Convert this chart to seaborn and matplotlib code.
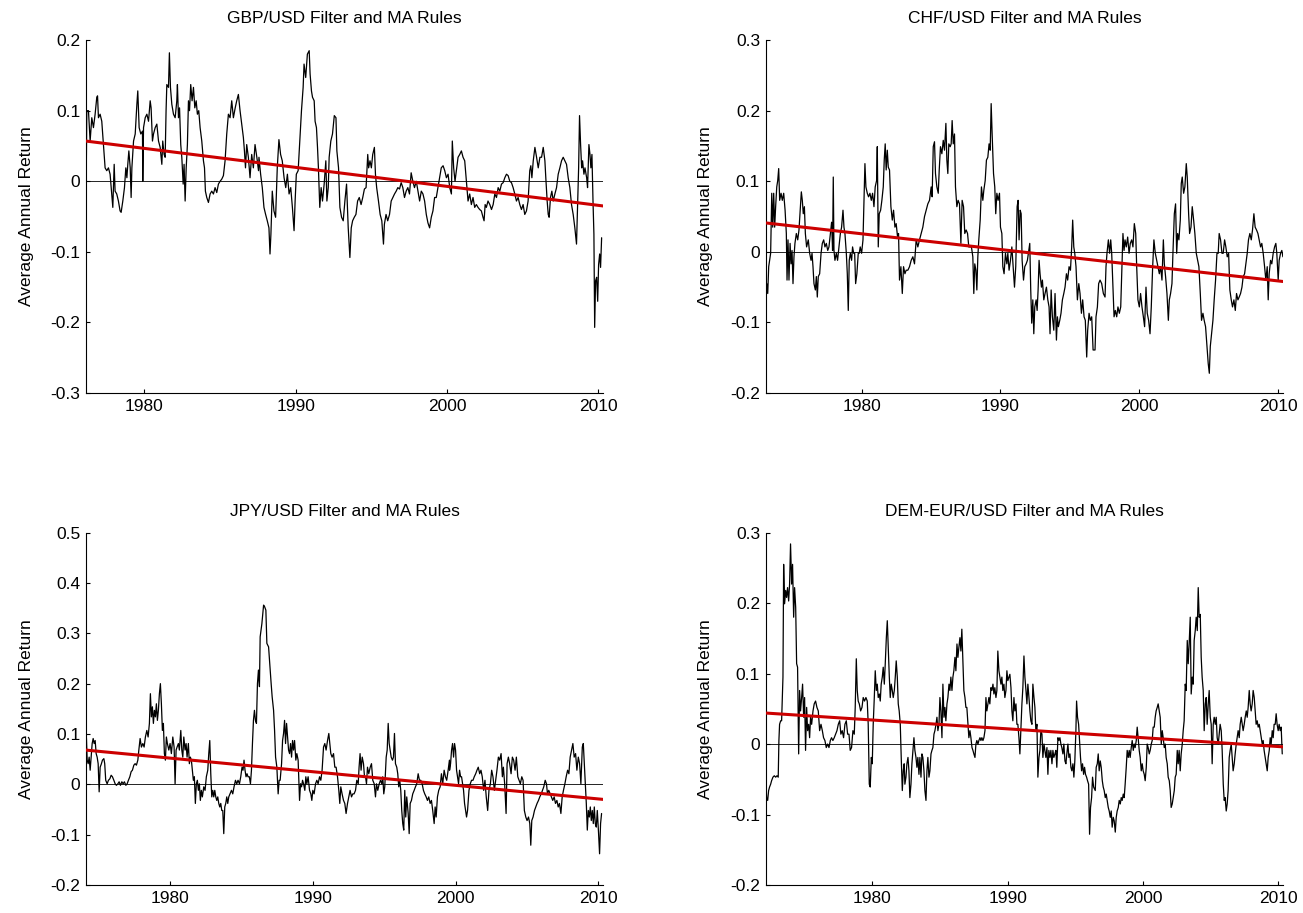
import matplotlib
matplotlib.use("Agg")
import matplotlib.pyplot as plt
import seaborn as sns
from matplotlib.ticker import FixedLocator, FuncFormatter

# ---------------- data ----------------
gbp_years = [
    1976.12, 1976.15, 1976.19, 1976.30, 1976.41, 1976.52, 1976.63, 1976.74, 1976.85, 1976.90,
    1976.96, 1977.07, 1977.18, 1977.29, 1977.40, 1977.51, 1977.62, 1977.73, 1977.84, 1977.91,
    1978.00, 1978.06, 1978.17, 1978.28, 1978.39, 1978.46, 1978.57, 1978.68, 1978.77, 1978.84,
    1978.90, 1978.97, 1979.06, 1979.12, 1979.17, 1979.28, 1979.39, 1979.50, 1979.56, 1979.65,
    1979.76, 1979.87, 1979.89, 1979.94, 1980.05, 1980.16, 1980.27, 1980.38, 1980.44, 1980.53,
    1980.60, 1980.71, 1980.82, 1980.93, 1981.04, 1981.15, 1981.21, 1981.30, 1981.37, 1981.43,
    1981.48, 1981.59, 1981.65, 1981.72, 1981.81, 1981.92, 1982.03, 1982.14, 1982.18, 1982.25,
    1982.32, 1982.40, 1982.47, 1982.56, 1982.62, 1982.69, 1982.76, 1982.84, 1982.91, 1982.98,
    1983.06, 1983.15, 1983.24, 1983.33, 1983.42, 1983.50, 1983.59, 1983.68, 1983.79, 1983.90,
    1983.97, 1984.03, 1984.12, 1984.23, 1984.34, 1984.45, 1984.56, 1984.67, 1984.78, 1984.89,
    1985.00, 1985.11, 1985.22, 1985.33, 1985.44, 1985.55, 1985.66, 1985.77, 1985.88, 1986.00,
    1986.10, 1986.21, 1986.32, 1986.43, 1986.54, 1986.61, 1986.68, 1986.76, 1986.87, 1986.98,
    1987.09, 1987.20, 1987.31, 1987.43, 1987.54,
    1987.57, 1987.68, 1987.79, 1987.90, 1988.01, 1988.12, 1988.23, 1988.30, 1988.36, 1988.45,
    1988.56, 1988.67, 1988.78, 1988.89, 1989.00, 1989.11, 1989.23, 1989.34, 1989.45, 1989.56,
    1989.67, 1989.78, 1989.89, 1989.96, 1990.04, 1990.16, 1990.27, 1990.38, 1990.49, 1990.55,
    1990.66, 1990.77, 1990.89, 1990.95, 1991.04, 1991.11, 1991.22, 1991.28, 1991.37, 1991.44,
    1991.50, 1991.59, 1991.68, 1991.77, 1991.88, 1991.99, 1992.06, 1992.15, 1992.21, 1992.32,
    1992.43, 1992.55, 1992.66, 1992.72, 1992.83, 1992.92, 1993.03, 1993.14, 1993.25, 1993.36,
    1993.47, 1993.58, 1993.67, 1993.76, 1993.87, 1993.98, 1994.09, 1994.20, 1994.32, 1994.43,
    1994.54, 1994.65, 1994.76, 1994.82, 1994.91, 1995.00, 1995.09, 1995.20, 1995.27, 1995.35,
    1995.47, 1995.58, 1995.69, 1995.80, 1995.86, 1995.97, 1996.08, 1996.20, 1996.31, 1996.42,
    1996.53, 1996.64, 1996.75, 1996.86, 1996.97, 1997.08, 1997.19, 1997.30, 1997.41, 1997.52,
    1997.63, 1997.74, 1997.85, 1997.97, 1998.08, 1998.19, 1998.30, 1998.41, 1998.52, 1998.63,
    1998.74, 1998.85, 1998.96, 1999.07, 1999.18, 1999.29, 1999.40, 1999.51, 1999.62, 1999.74,
    1999.85, 1999.96,
    2000.07, 2000.18, 2000.29, 2000.35, 2000.44, 2000.53, 2000.62, 2000.73, 2000.84, 2000.95,
    2001.06, 2001.17, 2001.28, 2001.39, 2001.50, 2001.61, 2001.72, 2001.83, 2001.94, 2002.05,
    2002.16, 2002.27, 2002.38, 2002.45, 2002.52, 2002.60, 2002.71, 2002.83, 2002.94, 2003.05,
    2003.16, 2003.27, 2003.38, 2003.49, 2003.60, 2003.71, 2003.82, 2003.93, 2004.04, 2004.15,
    2004.26, 2004.37, 2004.48, 2004.59, 2004.70, 2004.81, 2004.92, 2005.03, 2005.14, 2005.25,
    2005.36, 2005.47, 2005.54, 2005.61, 2005.70, 2005.81, 2005.92, 2006.03, 2006.14, 2006.25,
    2006.36, 2006.47, 2006.53, 2006.62, 2006.69, 2006.75, 2006.84, 2006.93, 2007.02, 2007.13,
    2007.24, 2007.35, 2007.46, 2007.57, 2007.68, 2007.79, 2007.90, 2008.01, 2008.12, 2008.23,
    2008.34, 2008.45, 2008.56, 2008.63, 2008.70, 2008.76, 2008.83, 2008.90, 2008.96, 2009.05,
    2009.12, 2009.23, 2009.29, 2009.38, 2009.45, 2009.51, 2009.58, 2009.65, 2009.71, 2009.76,
    2009.82, 2009.89, 2009.96, 2010.02, 2010.09, 2010.15, 2010.22,
]
gbp_values = [
    0.034, 0.000, 0.100, 0.100, 0.057, 0.090, 0.076, 0.095, 0.119, 0.121,
    0.090, 0.095, 0.085, 0.052, 0.019, 0.015, 0.019, 0.010, -0.018, -0.037,
    0.024, -0.014, -0.018, -0.028, -0.042, -0.044, -0.028, -0.009, 0.019, 0.005,
    0.024, 0.043, 0.019, -0.023, 0.019, 0.057, 0.067, 0.109, 0.128, 0.076,
    0.067, 0.071, 0.000, 0.076, 0.090, 0.095, 0.085, 0.114, 0.104, 0.057,
    0.067, 0.076, 0.081, 0.057, 0.048, 0.024, 0.057, 0.038, 0.034, 0.100,
    0.137, 0.133, 0.182, 0.133, 0.109, 0.095, 0.090, 0.114, 0.137, 0.090,
    0.104, 0.052, 0.034, -0.004, 0.024, -0.028, 0.019, 0.052, 0.114, 0.100,
    0.137, 0.114, 0.133, 0.104, 0.114, 0.095, 0.100, 0.076, 0.057, 0.029,
    0.019, -0.014, -0.023, -0.030, -0.018, -0.014, -0.018, -0.009, -0.016, -0.004,
    0.000, 0.003, 0.008, 0.029, 0.067, 0.095, 0.090, 0.114, 0.090, 0.104,
    0.114, 0.123, 0.100, 0.081, 0.062, 0.043, 0.019, 0.052, 0.034, 0.005,
    0.038, 0.019, 0.052, 0.034, 0.015,
    0.034, 0.010, -0.009, -0.037, -0.047, -0.056, -0.066, -0.103, -0.075, -0.014,
    -0.042, -0.051, 0.019, 0.059, 0.038, 0.029, 0.005, -0.009, 0.010, -0.018,
    -0.009, -0.037, -0.070, -0.028, 0.010, 0.015, 0.057, 0.100, 0.133, 0.166,
    0.147, 0.180, 0.185, 0.152, 0.128, 0.119, 0.114, 0.085, 0.076, 0.048,
    0.019, -0.037, -0.009, -0.028, -0.004, 0.029, -0.028, -0.009, 0.034, 0.057,
    0.067, 0.093, 0.090, 0.043, 0.019, -0.037, -0.051, -0.056, -0.028, -0.004,
    -0.066, -0.108, -0.066, -0.056, -0.051, -0.047, -0.028, -0.023, -0.033, -0.023,
    -0.011, -0.009, 0.038, 0.019, 0.029, 0.019, 0.038, 0.048, 0.010, -0.009,
    -0.028, -0.047, -0.056, -0.089, -0.061, -0.047, -0.056, -0.047, -0.028, -0.023,
    -0.018, -0.014, -0.009, -0.011, -0.002, -0.009, -0.023, -0.014, -0.009, -0.018,
    0.012, 0.000, -0.009, 0.000, -0.014, -0.028, -0.014, -0.018, -0.028, -0.047,
    -0.059, -0.066, -0.051, -0.042, -0.023, -0.023, -0.009, 0.005, 0.019, 0.022,
    0.015, 0.005,
    0.010, -0.009, -0.018, 0.057, 0.019, 0.000, 0.015, 0.034, 0.038, 0.043,
    0.034, 0.029, 0.000, -0.028, -0.018, -0.033, -0.023, -0.037, -0.033, -0.037,
    -0.040, -0.042, -0.051, -0.056, -0.033, -0.037, -0.028, -0.033, -0.040, -0.033,
    -0.018, -0.023, -0.009, -0.014, -0.004, -0.002, 0.005, 0.010, 0.008, 0.000,
    -0.002, -0.009, -0.018, -0.028, -0.023, -0.033, -0.040, -0.033, -0.047, -0.042,
    -0.028, 0.015, 0.022, 0.005, 0.029, 0.048, 0.034, 0.019, 0.034, 0.034,
    0.048, 0.029, 0.005, -0.028, -0.047, -0.051, -0.023, -0.014, -0.028, -0.018,
    -0.009, 0.010, 0.019, 0.029, 0.034, 0.029, 0.024, 0.005, -0.009, -0.033,
    -0.047, -0.066, -0.089, -0.037, 0.019, 0.093, 0.052, 0.019, 0.029, 0.010,
    0.019, 0.005, -0.009, 0.052, 0.038, 0.019, 0.038, -0.028, -0.075, -0.207,
    -0.141, -0.136, -0.170, -0.118, -0.103, -0.122, -0.080,
]

chf_years = [
    1973.09, 1973.17, 1973.24, 1973.31, 1973.38, 1973.45, 1973.53, 1973.60, 1973.67, 1973.74,
    1973.81, 1973.89, 1973.96, 1974.03, 1974.10, 1974.20, 1974.29, 1974.39, 1974.49, 1974.58,
    1974.63, 1974.70, 1974.77, 1974.85, 1974.92, 1974.99, 1975.06, 1975.13, 1975.20, 1975.30,
    1975.40, 1975.49, 1975.59, 1975.66, 1975.73, 1975.80, 1975.88, 1975.95, 1976.04, 1976.16,
    1976.26, 1976.36, 1976.43, 1976.50, 1976.57, 1976.67, 1976.74, 1976.81, 1976.88, 1976.98,
    1977.08, 1977.17, 1977.27, 1977.36, 1977.46, 1977.56, 1977.65, 1977.75, 1977.84, 1977.91,
    1977.96, 1978.01, 1978.08, 1978.18, 1978.27, 1978.37, 1978.47, 1978.56, 1978.66, 1978.73,
    1978.80, 1978.90, 1978.97, 1979.04, 1979.11, 1979.19, 1979.28, 1979.35, 1979.43, 1979.50,
    1979.57, 1979.66, 1979.76, 1979.83, 1979.90, 1980.00, 1980.10, 1980.19, 1980.24, 1980.31,
    1980.41, 1980.50, 1980.60, 1980.70, 1980.79, 1980.89, 1980.98, 1981.08, 1981.13, 1981.20,
    1981.27, 1981.37, 1981.46, 1981.56, 1981.63, 1981.70, 1981.77, 1981.85, 1981.92, 1982.01,
    1982.11, 1982.21, 1982.30, 1982.40, 1982.49, 1982.59, 1982.66, 1982.73, 1982.83, 1982.93,
    1983.02, 1983.12,
    1983.21, 1983.33, 1983.45, 1983.57, 1983.69, 1983.81, 1983.93, 1984.05, 1984.17, 1984.29,
    1984.41, 1984.53, 1984.65, 1984.77, 1984.89, 1985.01, 1985.08, 1985.16, 1985.25, 1985.32,
    1985.42, 1985.52, 1985.59, 1985.68, 1985.78, 1985.88, 1985.97, 1986.07, 1986.14, 1986.21,
    1986.28, 1986.38, 1986.45, 1986.52, 1986.60, 1986.69, 1986.76, 1986.86, 1986.95, 1987.05,
    1987.15, 1987.24, 1987.34, 1987.43, 1987.53, 1987.63, 1987.72, 1987.82, 1987.91, 1988.01,
    1988.08, 1988.15, 1988.23, 1988.30, 1988.37, 1988.44, 1988.54, 1988.63, 1988.73, 1988.80,
    1988.90, 1988.99, 1989.09, 1989.18, 1989.26, 1989.33, 1989.40, 1989.50, 1989.59, 1989.66,
    1989.74, 1989.83, 1989.93, 1990.00, 1990.10, 1990.17, 1990.26, 1990.36, 1990.46, 1990.53,
    1990.62, 1990.72, 1990.82, 1990.91, 1991.01, 1991.10, 1991.20, 1991.27, 1991.34, 1991.42,
    1991.49, 1991.56, 1991.66, 1991.75, 1991.85, 1991.94, 1992.04, 1992.11, 1992.18, 1992.25,
    1992.33, 1992.40, 1992.47, 1992.57, 1992.64, 1992.71, 1992.78, 1992.85, 1992.95, 1993.02,
    1993.12, 1993.21, 1993.31, 1993.41, 1993.50, 1993.57, 1993.65, 1993.74, 1993.84, 1993.93,
    1994.03, 1994.10, 1994.17, 1994.27, 1994.36, 1994.46, 1994.56, 1994.65, 1994.75, 1994.84,
    1994.94, 1995.04, 1995.13, 1995.20, 1995.28, 1995.35, 1995.44, 1995.54, 1995.64, 1995.73,
    1995.83, 1995.92, 1996.02, 1996.11, 1996.21, 1996.28, 1996.38, 1996.47, 1996.57, 1996.67,
    1996.81, 1996.88, 1996.98, 1997.07, 1997.17, 1997.29, 1997.41, 1997.53, 1997.60, 1997.67,
    1997.77, 1997.86, 1997.94, 1998.01, 1998.10, 1998.18, 1998.27, 1998.37, 1998.46, 1998.56,
    1998.66, 1998.75, 1998.82, 1998.90, 1998.97, 1999.06, 1999.16, 1999.26, 1999.35, 1999.45,
    1999.54, 1999.64, 1999.74, 1999.81, 1999.90, 2000.00, 2000.09, 2000.19, 2000.29, 2000.38,
    2000.48, 2000.57, 2000.67, 2000.77, 2000.86, 2000.96, 2001.05, 2001.15, 2001.25, 2001.34,
    2001.44, 2001.53, 2001.63, 2001.73, 2001.80, 2001.89, 2001.99, 2002.09, 2002.16, 2002.25,
    2002.35, 2002.42, 2002.52, 2002.61, 2002.69, 2002.76, 2002.85, 2002.95, 2003.02, 2003.09,
    2003.19, 2003.28, 2003.38, 2003.45, 2003.55, 2003.62, 2003.72, 2003.81, 2003.91, 2004.00,
    2004.10, 2004.20, 2004.29, 2004.39, 2004.48, 2004.58, 2004.67, 2004.77, 2004.87, 2004.96,
    2005.04, 2005.11, 2005.20, 2005.30, 2005.39, 2005.49, 2005.59, 2005.68, 2005.75, 2005.85,
    2005.95, 2006.04, 2006.14, 2006.23, 2006.33, 2006.43, 2006.52, 2006.62, 2006.71, 2006.81,
    2006.91, 2007.00, 2007.10, 2007.19, 2007.29, 2007.39, 2007.48, 2007.58, 2007.67, 2007.77,
    2007.86, 2007.96, 2008.06, 2008.15, 2008.25, 2008.34, 2008.44, 2008.54, 2008.63, 2008.73,
    2008.82, 2008.92, 2009.02, 2009.11, 2009.21, 2009.28, 2009.35, 2009.45, 2009.54, 2009.64,
    2009.74, 2009.83, 2009.90, 2010.00, 2010.07, 2010.17, 2010.26, 2010.34,
]
chf_values = [
    -0.068, -0.045, -0.059, -0.021, -0.012, -0.002, 0.083, 0.035, 0.083, 0.035,
    0.064, 0.092, 0.101, 0.118, 0.073, 0.083, 0.073, 0.083, 0.059, 0.026,
    -0.040, 0.017, -0.040, 0.012, -0.017, 0.002, -0.045, -0.007, 0.012, 0.026,
    0.017, 0.031, 0.064, 0.085, 0.073, 0.054, 0.064, 0.026, 0.007, 0.017,
    -0.002, -0.012, -0.002, -0.021, -0.045, -0.054, -0.035, -0.064, -0.035, -0.031,
    -0.002, 0.012, 0.017, 0.007, 0.012, 0.002, 0.007, 0.026, 0.042, 0.002,
    0.106, 0.002, -0.012, -0.002, -0.012, 0.007, 0.026, 0.035, 0.059, 0.035,
    0.026, -0.002, -0.031, -0.083, -0.012, -0.002, -0.012, 0.007, -0.002, -0.002,
    -0.045, -0.031, -0.002, -0.002, 0.007, -0.002, 0.017, 0.083, 0.125, 0.092,
    0.083, 0.078, 0.083, 0.073, 0.083, 0.064, 0.092, 0.101, 0.149, 0.007,
    0.054, 0.059, 0.073, 0.092, 0.130, 0.153, 0.116, 0.144, 0.120, 0.116,
    0.064, 0.045, 0.059, 0.035, 0.040, 0.021, 0.026, -0.040, -0.021, -0.059,
    -0.021, -0.031,
    -0.026, -0.026, -0.021, -0.012, -0.007, -0.017, 0.017, 0.007, 0.017, 0.026,
    0.035, 0.050, 0.059, 0.068, 0.073, 0.092, 0.078, 0.149, 0.156, 0.111,
    0.092, 0.083, 0.116, 0.149, 0.139, 0.158, 0.144, 0.182, 0.130, 0.111,
    0.153, 0.149, 0.153, 0.186, 0.153, 0.167, 0.092, 0.064, 0.073, 0.068,
    0.012, 0.073, 0.064, 0.026, 0.031, 0.026, 0.007, 0.007, 0.007, -0.007,
    -0.059, -0.017, -0.026, -0.054, -0.007, 0.017, 0.045, 0.092, 0.073, 0.087,
    0.101, 0.130, 0.134, 0.153, 0.144, 0.210, 0.167, 0.111, 0.092, 0.054,
    0.083, 0.073, 0.083, 0.035, 0.026, -0.021, -0.031, -0.002, -0.017, -0.002,
    -0.026, -0.012, 0.007, -0.021, -0.050, -0.021, 0.064, 0.073, 0.017, 0.059,
    0.054, -0.012, -0.040, -0.021, -0.017, -0.012, 0.002, 0.012, -0.054, -0.101,
    -0.068, -0.116, -0.078, -0.068, -0.083, -0.054, -0.012, -0.031, -0.050, -0.040,
    -0.068, -0.059, -0.050, -0.068, -0.078, -0.116, -0.054, -0.092, -0.111, -0.059,
    -0.125, -0.092, -0.106, -0.097, -0.087, -0.068, -0.059, -0.050, -0.031, -0.040,
    -0.021, -0.026, 0.007, 0.045, 0.007, -0.002, -0.021, -0.068, -0.045, -0.059,
    -0.087, -0.068, -0.092, -0.097, -0.149, -0.111, -0.087, -0.097, -0.092, -0.139,
    -0.139, -0.092, -0.078, -0.045, -0.040, -0.045, -0.059, -0.064, -0.021, -0.002,
    0.017, -0.002, 0.017, -0.002, -0.050, -0.092, -0.083, -0.092, -0.078, -0.087,
    -0.078, -0.021, 0.026, 0.002, 0.017, 0.007, 0.021, -0.002, 0.012, 0.017,
    0.007, 0.040, 0.026, -0.021, -0.068, -0.078, -0.059, -0.078, -0.092, -0.106,
    -0.050, -0.087, -0.097, -0.116, -0.078, -0.021, 0.017, -0.002, -0.012, -0.021,
    -0.031, -0.021, -0.040, 0.017, -0.017, -0.035, -0.059, -0.097, -0.068, -0.059,
    -0.045, -0.002, 0.054, 0.068, -0.002, 0.026, 0.017, 0.045, 0.097, 0.106,
    0.083, 0.092, 0.125, 0.106, 0.054, 0.026, 0.035, 0.064, 0.045, 0.026,
    -0.002, -0.012, -0.021, -0.059, -0.097, -0.087, -0.097, -0.106, -0.134, -0.158,
    -0.172, -0.134, -0.116, -0.097, -0.068, -0.040, -0.002, -0.002, 0.026, 0.017,
    -0.002, -0.002, 0.017, 0.007, -0.007, -0.002, -0.054, -0.068, -0.078, -0.068,
    -0.083, -0.059, -0.068, -0.064, -0.059, -0.050, -0.035, -0.031, -0.017, -0.002,
    0.017, 0.026, 0.017, 0.031, 0.054, 0.035, 0.031, 0.026, 0.017, 0.007,
    0.012, -0.002, -0.021, -0.040, -0.021, -0.068, -0.031, -0.012, -0.017, -0.002,
    0.007, 0.012, -0.002, -0.040, -0.012, -0.002, 0.002, -0.007,
]

jpy_years = [
    1974.09, 1974.14, 1974.19, 1974.26, 1974.33, 1974.40, 1974.47, 1974.54, 1974.61, 1974.68,
    1974.75, 1974.82, 1974.89, 1974.96, 1975.03, 1975.10, 1975.19, 1975.26, 1975.36, 1975.42,
    1975.49, 1975.59, 1975.68, 1975.78, 1975.87, 1975.96, 1976.06, 1976.15, 1976.24, 1976.34,
    1976.43, 1976.52, 1976.62, 1976.71, 1976.80, 1976.90, 1976.99, 1977.08, 1977.18, 1977.27,
    1977.36, 1977.46, 1977.55, 1977.64, 1977.74, 1977.81, 1977.90, 1977.99, 1978.09, 1978.18,
    1978.27, 1978.37, 1978.46, 1978.55, 1978.62, 1978.69, 1978.76, 1978.83, 1978.90, 1978.97,
    1979.04, 1979.11, 1979.18, 1979.25, 1979.32, 1979.39, 1979.46, 1979.53, 1979.60, 1979.67,
    1979.74, 1979.81, 1979.91, 1980.00, 1980.09, 1980.19, 1980.28, 1980.35, 1980.42, 1980.49,
    1980.58, 1980.65, 1980.75, 1980.82, 1980.89, 1980.96, 1981.05, 1981.12, 1981.19, 1981.28,
    1981.35, 1981.42, 1981.49, 1981.56, 1981.63, 1981.70, 1981.77, 1981.84, 1981.91, 1981.98,
    1982.05, 1982.12, 1982.19, 1982.26, 1982.36, 1982.45, 1982.54, 1982.64, 1982.71, 1982.78,
    1982.85, 1982.92, 1982.99, 1983.06, 1983.13, 1983.20, 1983.27, 1983.34, 1983.41, 1983.48,
    1983.55, 1983.62, 1983.69, 1983.76, 1983.83, 1983.90, 1983.97, 1984.04, 1984.11, 1984.20,
    1984.30, 1984.39, 1984.48, 1984.58, 1984.67, 1984.76, 1984.86, 1984.95, 1985.04, 1985.11,
    1985.18, 1985.25, 1985.32, 1985.39, 1985.46, 1985.55, 1985.63, 1985.70, 1985.77, 1985.84,
    1985.91, 1985.98, 1986.05, 1986.12, 1986.19, 1986.26,
    1986.31, 1986.43, 1986.55, 1986.62, 1986.71, 1986.78, 1986.90, 1987.01, 1987.08, 1987.15,
    1987.25, 1987.32, 1987.39, 1987.48, 1987.57, 1987.64, 1987.71, 1987.81, 1987.88, 1987.95,
    1988.02, 1988.09, 1988.16, 1988.23, 1988.30, 1988.37, 1988.44, 1988.51, 1988.58, 1988.65,
    1988.72, 1988.81, 1988.88, 1988.97, 1989.07, 1989.14, 1989.21, 1989.28, 1989.35, 1989.44,
    1989.51, 1989.58, 1989.67, 1989.77, 1989.86, 1989.93, 1990.00, 1990.09, 1990.19, 1990.28,
    1990.37, 1990.47, 1990.56, 1990.65, 1990.75, 1990.84, 1990.93, 1991.03, 1991.12, 1991.19,
    1991.26, 1991.35, 1991.45, 1991.54, 1991.63, 1991.73, 1991.82, 1991.89, 1991.96, 1992.05,
    1992.15, 1992.24, 1992.33, 1992.43, 1992.52, 1992.61, 1992.71, 1992.80, 1992.89, 1992.99,
    1993.08, 1993.18, 1993.24, 1993.31, 1993.38, 1993.46, 1993.55, 1993.62, 1993.69, 1993.76,
    1993.83, 1993.92, 1994.02, 1994.11, 1994.20, 1994.30, 1994.39, 1994.46, 1994.55, 1994.65,
    1994.74, 1994.83, 1994.90, 1994.97, 1995.04, 1995.14, 1995.21, 1995.28, 1995.35, 1995.42,
    1995.49, 1995.58, 1995.65, 1995.72, 1995.79, 1995.88, 1995.95, 1996.02, 1996.09, 1996.16,
    1996.23, 1996.30, 1996.37, 1996.44, 1996.51, 1996.58, 1996.68, 1996.75, 1996.82, 1996.91,
    1997.00, 1997.10, 1997.19, 1997.28, 1997.38, 1997.47, 1997.56, 1997.66, 1997.75, 1997.84,
    1997.94, 1998.03, 1998.12, 1998.22, 1998.31, 1998.40, 1998.50, 1998.57, 1998.64, 1998.73,
    1998.82, 1998.92, 1999.01, 1999.10, 1999.20, 1999.29, 1999.38, 1999.48, 1999.57,
    1999.58, 1999.65, 1999.72, 1999.79, 1999.86, 1999.93, 2000.00, 2000.07, 2000.14, 2000.21,
    2000.28, 2000.35, 2000.42, 2000.49, 2000.56, 2000.63, 2000.70, 2000.77, 2000.84, 2000.94,
    2001.03, 2001.12, 2001.22, 2001.31, 2001.41, 2001.50, 2001.59, 2001.69, 2001.78, 2001.87,
    2001.97, 2002.06, 2002.15, 2002.25, 2002.34, 2002.44, 2002.53, 2002.62, 2002.72, 2002.81,
    2002.90, 2003.00, 2003.09, 2003.19, 2003.28, 2003.35, 2003.44, 2003.54, 2003.61, 2003.70,
    2003.79, 2003.89, 2003.98, 2004.07, 2004.17, 2004.26, 2004.36, 2004.45, 2004.54, 2004.64,
    2004.73, 2004.82, 2004.92, 2005.01, 2005.11, 2005.20, 2005.27, 2005.34, 2005.43, 2005.53,
    2005.62, 2005.71, 2005.81, 2005.90, 2006.00, 2006.09, 2006.18, 2006.28, 2006.37, 2006.44,
    2006.53, 2006.63, 2006.72, 2006.81, 2006.91, 2007.00, 2007.10, 2007.19, 2007.28, 2007.38,
    2007.47, 2007.56, 2007.66, 2007.75, 2007.85, 2007.94, 2008.03, 2008.13, 2008.22, 2008.31,
    2008.41, 2008.50, 2008.60, 2008.69, 2008.78, 2008.88, 2008.95, 2009.02, 2009.09, 2009.16,
    2009.23, 2009.30, 2009.37, 2009.44, 2009.51, 2009.58, 2009.65, 2009.72, 2009.79, 2009.86,
    2009.93, 2010.02, 2010.09, 2010.16, 2010.23,
]
jpy_values = [
    0.034, 0.091, 0.048, 0.041, 0.054, 0.028, 0.054, 0.081, 0.091, 0.081,
    0.087, 0.061, 0.054, 0.041, -0.015, 0.034, 0.041, 0.048, 0.051, 0.041,
    0.008, 0.001, 0.008, 0.011, 0.018, 0.015, 0.008, 0.001, -0.002, 0.001,
    0.005, -0.002, 0.005, 0.001, 0.005, -0.002, 0.001, 0.008, 0.015, 0.025,
    0.028, 0.038, 0.041, 0.038, 0.048, 0.068, 0.091, 0.074, 0.081, 0.074,
    0.094, 0.107, 0.094, 0.121, 0.180, 0.134, 0.154, 0.121, 0.147, 0.134,
    0.160, 0.127, 0.147, 0.180, 0.200, 0.160, 0.107, 0.121, 0.061, 0.048,
    0.094, 0.081, 0.068, 0.081, 0.061, 0.094, 0.074, 0.001, 0.068, 0.074,
    0.081, 0.068, 0.107, 0.068, 0.054, 0.094, 0.068, 0.081, 0.054, 0.081,
    0.041, 0.054, 0.048, 0.028, 0.008, 0.015, -0.038, 0.001, 0.008, -0.012,
    0.001, -0.032, -0.012, -0.025, -0.005, -0.012, 0.015, 0.028, 0.061, 0.087,
    0.021, -0.025, -0.012, -0.025, -0.012, -0.025, -0.032, -0.025, -0.038, -0.045,
    -0.038, -0.052, -0.052, -0.098, -0.045, -0.038, -0.025, -0.038, -0.025, -0.019,
    -0.012, -0.019, -0.005, 0.008, 0.001, 0.008, 0.001, 0.015, 0.034, 0.028,
    0.048, 0.028, 0.015, 0.021, 0.015, 0.015, 0.001, 0.028, 0.081, 0.127,
    0.147, 0.127, 0.121, 0.200, 0.227, 0.194,
    0.293, 0.319, 0.356, 0.353, 0.346, 0.280, 0.273, 0.227, 0.200, 0.174,
    0.147, 0.107, 0.054, 0.034, -0.019, 0.008, 0.008, 0.041, 0.087, 0.101,
    0.127, 0.081, 0.121, 0.094, 0.068, 0.061, 0.081, 0.054, 0.087, 0.068,
    0.087, 0.048, 0.061, 0.048, -0.032, 0.001, -0.005, 0.008, 0.001, -0.012,
    0.015, 0.001, 0.015, -0.012, -0.019, -0.032, -0.012, -0.019, 0.001, 0.008,
    0.001, 0.015, 0.008, 0.028, 0.074, 0.081, 0.068, 0.087, 0.101, 0.081,
    0.061, 0.054, 0.061, 0.034, 0.034, 0.015, -0.012, -0.038, -0.005, -0.019,
    -0.032, -0.038, -0.058, -0.038, -0.025, -0.012, -0.025, -0.019, -0.019, -0.012,
    0.008, 0.001, 0.034, 0.061, 0.028, 0.054, 0.041, 0.015, 0.015, 0.001,
    0.034, 0.021, 0.034, 0.041, 0.008, 0.001, -0.025, 0.001, -0.012, 0.001,
    0.008, 0.001, 0.015, -0.019, -0.005, 0.054, 0.068, 0.121, 0.081, 0.068,
    0.054, 0.048, 0.054, 0.101, 0.041, 0.034, 0.021, -0.005, 0.008, -0.012,
    -0.052, -0.078, -0.091, -0.012, -0.065, -0.025, -0.058, -0.098, -0.038, -0.032,
    -0.019, -0.012, -0.005, 0.001, 0.021, 0.008, 0.008, 0.001, -0.012, -0.019,
    -0.025, -0.032, -0.025, -0.038, -0.032, -0.052, -0.078, -0.045, -0.065, -0.025,
    -0.012, -0.005, 0.021, 0.001, 0.028, 0.015, 0.008, 0.028, 0.048,
    0.028, 0.041, 0.068, 0.081, 0.054, 0.081, 0.068, 0.028, 0.015, 0.001,
    0.028, 0.015, 0.015, 0.001, -0.012, -0.038, -0.052, -0.065, -0.052, -0.012,
    0.001, 0.008, 0.008, 0.015, 0.021, 0.028, 0.034, 0.021, 0.028, 0.015,
    -0.012, 0.008, -0.025, -0.052, -0.012, 0.001, 0.028, 0.015, -0.012, 0.008,
    0.028, 0.054, 0.048, 0.061, 0.015, 0.034, 0.001, -0.058, 0.041, 0.054,
    0.041, 0.021, 0.054, 0.048, 0.028, 0.054, 0.015, 0.008, 0.001, 0.015,
    0.008, -0.052, -0.065, -0.072, -0.065, -0.078, -0.121, -0.072, -0.065, -0.052,
    -0.045, -0.038, -0.032, -0.025, -0.019, -0.012, -0.005, 0.008, 0.001, -0.019,
    -0.012, -0.019, -0.025, -0.032, -0.025, -0.038, -0.032, -0.045, -0.038, -0.058,
    -0.025, -0.012, 0.001, 0.015, 0.028, 0.021, 0.054, 0.068, 0.081, 0.054,
    0.061, 0.028, 0.054, 0.041, 0.001, 0.074, 0.081, 0.041, 0.001, -0.038,
    -0.091, -0.052, -0.065, -0.045, -0.072, -0.052, -0.078, -0.045, -0.078, -0.085,
    -0.052, -0.098, -0.138, -0.078, -0.058,
]

dem_years = [
    1972.12, 1972.19, 1972.27, 1972.34, 1972.41, 1972.49, 1972.56, 1972.66, 1972.76, 1972.86,
    1972.96, 1973.05, 1973.10, 1973.15, 1973.23, 1973.30, 1973.35, 1973.40, 1973.45, 1973.52,
    1973.60, 1973.67, 1973.74, 1973.82, 1973.89, 1973.96, 1974.04, 1974.11, 1974.19, 1974.26,
    1974.34, 1974.41, 1974.48, 1974.56, 1974.63, 1974.70, 1974.78, 1974.85, 1974.93, 1975.00,
    1975.07, 1975.15, 1975.22, 1975.30, 1975.37, 1975.44, 1975.52, 1975.62, 1975.71, 1975.81,
    1975.91, 1976.01, 1976.11, 1976.21, 1976.31, 1976.40, 1976.50, 1976.60, 1976.70, 1976.80,
    1976.90, 1976.99, 1977.09, 1977.19, 1977.29, 1977.39, 1977.49, 1977.59, 1977.68, 1977.78,
    1977.88, 1977.98, 1978.08, 1978.18, 1978.28, 1978.37, 1978.47, 1978.57, 1978.67, 1978.74,
    1978.82, 1978.89, 1978.96, 1979.04, 1979.14, 1979.24, 1979.33, 1979.43, 1979.53, 1979.63,
    1979.70, 1979.78, 1979.85, 1979.93, 1980.00, 1980.07, 1980.15, 1980.22, 1980.30, 1980.37,
    1980.44, 1980.52, 1980.59, 1980.66, 1980.74, 1980.81, 1980.89, 1980.96, 1981.04, 1981.11,
    1981.18, 1981.26, 1981.33, 1981.40, 1981.48, 1981.55, 1981.63, 1981.70, 1981.77, 1981.85,
    1981.92, 1981.99, 1982.07, 1982.14, 1982.22, 1982.29, 1982.36,
    1982.41, 1982.49, 1982.56, 1982.64, 1982.71, 1982.78, 1982.86, 1982.93, 1983.01, 1983.08,
    1983.15, 1983.23, 1983.30, 1983.37, 1983.45, 1983.52, 1983.60, 1983.67, 1983.74, 1983.82,
    1983.89, 1983.97, 1984.04, 1984.11, 1984.19, 1984.26, 1984.34, 1984.41, 1984.48, 1984.56,
    1984.63, 1984.71, 1984.78, 1984.85, 1984.93, 1985.00, 1985.07, 1985.15, 1985.22, 1985.30,
    1985.37, 1985.44, 1985.52, 1985.59, 1985.67, 1985.74, 1985.81, 1985.89, 1985.96, 1986.03,
    1986.11, 1986.18, 1986.26, 1986.33, 1986.40, 1986.48, 1986.55, 1986.62, 1986.70, 1986.77,
    1986.85, 1986.92, 1986.99, 1987.07, 1987.14, 1987.22, 1987.29, 1987.37, 1987.44, 1987.51,
    1987.59, 1987.66, 1987.73, 1987.81, 1987.88, 1987.96, 1988.03, 1988.10, 1988.18, 1988.25,
    1988.33, 1988.40, 1988.47, 1988.55, 1988.62, 1988.69, 1988.77, 1988.84, 1988.92, 1988.99,
    1989.06, 1989.14, 1989.21, 1989.28, 1989.36, 1989.43, 1989.51, 1989.58, 1989.65, 1989.73,
    1989.80, 1989.88, 1989.95, 1990.02, 1990.10, 1990.17, 1990.25, 1990.32, 1990.39, 1990.47,
    1990.54, 1990.62, 1990.69, 1990.76, 1990.84, 1990.91, 1990.98, 1991.06, 1991.13, 1991.21,
    1991.28, 1991.36, 1991.43, 1991.50, 1991.58, 1991.65, 1991.72, 1991.80, 1991.87, 1991.95,
    1992.02, 1992.09, 1992.17, 1992.24, 1992.32, 1992.39, 1992.46, 1992.54, 1992.61, 1992.69,
    1992.76, 1992.83, 1992.91, 1992.98, 1993.05, 1993.13, 1993.20, 1993.28, 1993.35, 1993.42,
    1993.50, 1993.57, 1993.64, 1993.72, 1993.79, 1993.87, 1993.94, 1994.01, 1994.09, 1994.16,
    1994.24, 1994.31, 1994.38, 1994.46, 1994.53, 1994.61, 1994.68, 1994.75, 1994.83, 1994.90,
    1994.97, 1995.05, 1995.10, 1995.17, 1995.25, 1995.32, 1995.39, 1995.47, 1995.54, 1995.62,
    1995.69, 1995.76, 1995.84, 1995.91, 1995.99, 1996.06, 1996.13, 1996.21, 1996.28, 1996.36,
    1996.48, 1996.55, 1996.63, 1996.70, 1996.77, 1996.85, 1996.92, 1997.00, 1997.07, 1997.14,
    1997.22, 1997.29, 1997.36, 1997.44, 1997.51, 1997.59, 1997.66, 1997.73, 1997.81, 1997.88,
    1997.96, 1998.03, 1998.10, 1998.18, 1998.25, 1998.33, 1998.40, 1998.47, 1998.55, 1998.62,
    1998.69, 1998.77, 1998.84, 1998.92, 1998.99, 1999.06, 1999.14, 1999.21, 1999.29, 1999.36,
    1999.43, 1999.51, 1999.58, 1999.65, 1999.73, 1999.80, 1999.88, 1999.95, 2000.02, 2000.10,
    2000.17, 2000.25, 2000.32, 2000.39, 2000.47, 2000.54, 2000.62, 2000.69, 2000.76, 2000.84,
    2000.91, 2000.98, 2001.06, 2001.13, 2001.21, 2001.28, 2001.36, 2001.43, 2001.50, 2001.58,
    2001.65, 2001.72, 2001.80, 2001.87, 2001.95, 2002.02, 2002.09, 2002.17, 2002.24, 2002.32,
    2002.39, 2002.46, 2002.54, 2002.61, 2002.68, 2002.76, 2002.83, 2002.91, 2002.98, 2003.05,
    2003.13, 2003.20, 2003.28, 2003.35, 2003.42, 2003.50, 2003.57, 2003.65, 2003.72, 2003.79,
    2003.87, 2003.94, 2004.02, 2004.09, 2004.16, 2004.24, 2004.31, 2004.38, 2004.46, 2004.53,
    2004.61, 2004.68, 2004.75, 2004.83, 2004.90, 2004.98, 2005.05, 2005.12, 2005.20, 2005.27,
    2005.35, 2005.42, 2005.49, 2005.57, 2005.64, 2005.71, 2005.79, 2005.86, 2005.94, 2006.01,
    2006.08, 2006.16, 2006.23, 2006.30, 2006.38, 2006.45, 2006.53, 2006.60, 2006.67, 2006.75,
    2006.82, 2006.90, 2006.97, 2007.04, 2007.12, 2007.19, 2007.27, 2007.34, 2007.41, 2007.49,
    2007.56, 2007.64, 2007.71, 2007.78, 2007.86, 2007.93, 2008.00, 2008.08, 2008.15, 2008.23,
    2008.30, 2008.37, 2008.45, 2008.52, 2008.60, 2008.67, 2008.74, 2008.82, 2008.89, 2008.96,
    2009.04, 2009.11, 2009.19, 2009.26, 2009.34, 2009.41, 2009.48, 2009.56, 2009.63, 2009.70,
    2009.78, 2009.85, 2009.92, 2010.00, 2010.07, 2010.15, 2010.22, 2010.30,
]
dem_values = [
    -0.047, -0.076, -0.080, -0.066, -0.061, -0.057, -0.052, -0.047, -0.045, -0.047,
    -0.045, -0.047, 0.005, 0.028, 0.033, 0.033, 0.066, 0.095, 0.255, 0.199,
    0.218, 0.208, 0.222, 0.203, 0.227, 0.284, 0.227, 0.255, 0.180, 0.222,
    0.194, 0.114, 0.109, -0.014, 0.076, 0.047, 0.066, 0.085, 0.038, 0.066,
    -0.009, 0.052, 0.019, 0.028, 0.009, 0.038, 0.028, 0.047, 0.057, 0.061,
    0.052, 0.047, 0.019, 0.028, 0.019, 0.009, 0.005, -0.005, 0.000, -0.005,
    0.005, 0.009, 0.005, 0.009, 0.014, 0.019, 0.028, 0.033, 0.014, 0.019,
    0.009, 0.028, 0.033, 0.014, 0.014, -0.009, -0.005, 0.019, 0.014, 0.052,
    0.121, 0.076, 0.061, 0.057, 0.047, 0.052, 0.066, 0.061, 0.066, 0.061,
    0.028, -0.057, -0.061, -0.019, -0.028, 0.028, 0.066, 0.104, 0.076, 0.085,
    0.066, 0.071, 0.061, 0.085, 0.095, 0.109, 0.085, 0.114, 0.151, 0.175,
    0.137, 0.095, 0.066, 0.085, 0.076, 0.066, 0.076, 0.095, 0.118, 0.095,
    0.057, 0.047, 0.028, -0.019, -0.066, -0.038, -0.028,
    -0.057, -0.047, -0.028, -0.019, -0.038, -0.076, -0.057, -0.028, -0.009, 0.009,
    -0.009, -0.019, -0.033, -0.019, -0.043, -0.019, -0.047, -0.014, -0.019, -0.038,
    -0.066, -0.080, -0.038, -0.019, -0.047, -0.038, -0.014, -0.009, -0.005, 0.014,
    0.019, 0.028, 0.038, 0.019, 0.028, 0.066, 0.047, 0.009, 0.085, 0.038,
    0.052, 0.033, 0.057, 0.066, 0.085, 0.076, 0.095, 0.076, 0.095, 0.104,
    0.123, 0.104, 0.142, 0.123, 0.137, 0.151, 0.132, 0.163, 0.114, 0.076,
    0.066, 0.052, 0.052, 0.028, 0.009, 0.019, 0.009, -0.005, -0.009, -0.014,
    -0.019, 0.000, 0.005, 0.000, 0.005, 0.009, 0.005, 0.009, 0.005, 0.009,
    0.019, 0.066, 0.047, 0.057, 0.066, 0.057, 0.080, 0.076, 0.085, 0.071,
    0.080, 0.066, 0.076, 0.132, 0.104, 0.095, 0.085, 0.095, 0.076, 0.085,
    0.066, 0.076, 0.104, 0.090, 0.095, 0.099, 0.080, 0.047, 0.033, 0.066,
    0.047, 0.057, 0.028, 0.028, 0.009, -0.014, 0.019, 0.057, 0.080, 0.125,
    0.095, 0.076, 0.057, 0.085, 0.066, 0.047, 0.033, 0.028, 0.085, 0.066,
    0.052, 0.019, 0.028, -0.047, -0.019, -0.009, 0.019, 0.014, -0.019, 0.000,
    -0.009, -0.019, -0.005, -0.043, -0.009, -0.019, -0.009, -0.028, -0.009, -0.019,
    -0.014, -0.009, -0.033, 0.009, 0.005, 0.009, 0.000, -0.005, -0.014, 0.000,
    -0.024, -0.028, -0.014, 0.000, -0.019, -0.014, -0.033, -0.038, -0.028, -0.047,
    -0.024, 0.019, 0.061, 0.038, 0.028, 0.005, -0.019, -0.038, -0.028, -0.043,
    -0.033, -0.043, -0.047, -0.052, -0.057, -0.128, -0.090, -0.076, -0.047, -0.061,
    -0.066, -0.033, -0.028, -0.014, -0.038, -0.024, -0.033, -0.052, -0.061, -0.066,
    -0.076, -0.071, -0.080, -0.090, -0.095, -0.104, -0.095, -0.118, -0.104, -0.109,
    -0.125, -0.104, -0.095, -0.090, -0.080, -0.085, -0.076, -0.080, -0.071, -0.076,
    -0.057, -0.033, -0.009, -0.019, -0.009, -0.019, -0.005, 0.005, -0.009, 0.000,
    -0.005, 0.005, 0.024, 0.009, -0.009, -0.019, -0.038, -0.028, -0.038, -0.043,
    -0.052, -0.033, 0.000, -0.005, -0.014, -0.009, 0.000, 0.005, 0.024, 0.024,
    0.038, 0.047, 0.052, 0.057, 0.047, 0.038, 0.000, 0.019, 0.009, -0.005,
    0.000, -0.019, -0.028, -0.047, -0.052, -0.066, -0.090, -0.085, -0.076, -0.066,
    -0.047, -0.043, -0.009, -0.028, -0.009, -0.038, -0.014, 0.000, 0.019, 0.033,
    0.085, 0.076, 0.147, 0.114, 0.142, 0.180, 0.071, 0.095, 0.085, 0.147,
    0.161, 0.180, 0.161, 0.222, 0.180, 0.184, 0.123, 0.095, 0.076, 0.019,
    0.057, 0.066, 0.028, 0.057, 0.076, 0.038, 0.028, -0.028, 0.028, 0.038,
    0.028, 0.038, 0.009, 0.000, 0.014, 0.028, 0.019, -0.009, -0.057, -0.080,
    -0.076, -0.095, -0.085, -0.066, -0.019, -0.009, 0.000, -0.019, -0.038, -0.028,
    -0.014, 0.000, 0.009, 0.019, 0.009, 0.028, 0.038, 0.028, 0.019, 0.028,
    0.038, 0.047, 0.038, 0.052, 0.076, 0.057, 0.047, 0.057, 0.076, 0.066,
    0.047, 0.028, 0.033, 0.024, 0.028, 0.019, 0.009, 0.000, 0.005, -0.009,
    -0.019, -0.028, -0.038, -0.019, -0.009, 0.009, 0.000, 0.019, 0.009, 0.028,
    0.028, 0.043, 0.028, 0.019, 0.028, 0.019, 0.024, -0.014,
]

# fitted trend: value at first and last date
gbp_trend = [0.057, -0.035]
chf_trend = [0.041, -0.042]
jpy_trend = [0.068, -0.030]
dem_trend = [0.044, -0.004]

titles = ["GBP/USD Filter and MA Rules", "CHF/USD Filter and MA Rules",
          "JPY/USD Filter and MA Rules", "DEM-EUR/USD Filter and MA Rules"]
ylabel = "Average Annual Return"
year_ticks = [1980, 1990, 2000, 2010]

# ---------------- styling ----------------
sns.set_style("ticks")
plt.rcParams.update({
    "font.family": ["Liberation Sans", "DejaVu Sans"],
    "font.size": 12.5,
    "text.color": "black",
    "axes.labelcolor": "black",
    "axes.unicode_minus": False,
    "xtick.direction": "in",
    "ytick.direction": "in",
    "xtick.major.size": 3,
    "ytick.major.size": 3,
    "xtick.major.width": 0.8,
    "ytick.major.width": 0.8,
    "axes.linewidth": 0.8,
    "axes.edgecolor": "black",
    "xtick.color": "black",
    "ytick.color": "black",
})

fig = plt.figure(figsize=(13.03, 9.13), dpi=100)

panels = [
    # rect, years, values, trend, xlim, ylim
    ([0.0658, 0.5695, 0.3972, 0.3866], gbp_years, gbp_values, gbp_trend, (1976.12, 2010.33), (-0.3, 0.2)),
    ([0.5876, 0.5695, 0.3972, 0.3866], chf_years, chf_values, chf_trend, (1973.09, 2010.36), (-0.2, 0.3)),
    ([0.0658, 0.0307, 0.3972, 0.3859], jpy_years, jpy_values, jpy_trend, (1974.09, 2010.35), (-0.2, 0.5)),
    ([0.5876, 0.0307, 0.3972, 0.3859], dem_years, dem_values, dem_trend, (1972.12, 2010.37), (-0.2, 0.3)),
]


def fmt(v, _):
    return "0" if abs(v) < 1e-9 else f"{v:.1f}"


for (rect, yrs, vals, trend, xlim, ylim), title in zip(panels, titles):
    ax = fig.add_axes(rect)
    sns.lineplot(x=yrs, y=vals, ax=ax, color="black", linewidth=0.9,
                 estimator=None, sort=False, zorder=2)
    ax.axhline(0, color="black", linewidth=0.6, zorder=1)
    sns.lineplot(x=[xlim[0], xlim[1]], y=trend, ax=ax, color="#CC0000",
                 linewidth=2.2, estimator=None, zorder=3)
    ax.set_xlim(*xlim)
    ax.set_ylim(*ylim)
    ax.xaxis.set_major_locator(FixedLocator(year_ticks))
    yt = [round(ylim[0] + 0.1 * i, 1) for i in range(int(round((ylim[1] - ylim[0]) / 0.1)) + 1)]
    ax.yaxis.set_major_locator(FixedLocator(yt))
    ax.yaxis.set_major_formatter(FuncFormatter(fmt))
    ax.set_title(title, fontsize=12.5, pad=12, color="black")
    ax.set_ylabel(ylabel, fontsize=12.5, labelpad=12)
    ax.set_xlabel("")
    ax.tick_params(labelsize=12.5, pad=4)
    sns.despine(ax=ax)

fig.savefig("out.png", dpi=100)
